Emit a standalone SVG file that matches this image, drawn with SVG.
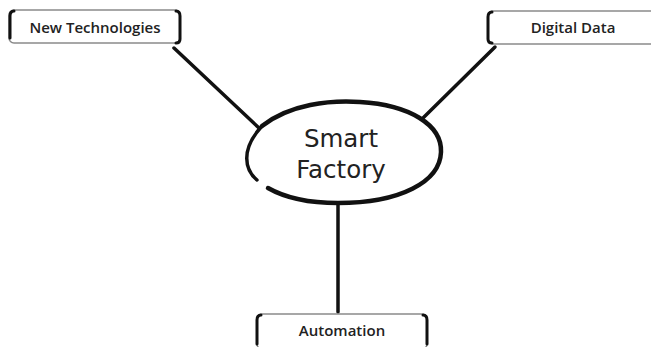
<svg xmlns="http://www.w3.org/2000/svg" width="651" height="347" viewBox="0 0 651 347">
<style>
.box{fill:#fff;stroke:#8a8a8a;stroke-width:1.5}
.br{fill:none;stroke:#111;stroke-width:3;stroke-linecap:round}
.lbl{font-family:"Open Sans","DejaVu Sans",sans-serif;font-size:15px;font-weight:600;fill:#222;text-anchor:middle}
.big{font-family:"DejaVu Sans","Open Sans",sans-serif;font-size:24.5px;fill:#222;text-anchor:middle}
.con{stroke:#111;stroke-width:3.5;stroke-linecap:round;fill:none}
</style>
<rect width="651" height="347" fill="#fff"/>
<g id="connectors">
<line class="con" x1="174" y1="48" x2="259" y2="128"/>
<line class="con" x1="495" y1="47" x2="422" y2="119"/>
<line class="con" x1="338" y1="203" x2="338" y2="312"/>
</g>
<g id="smart-factory">
<path d="M 262 126 C 290 104 330 100 360 102 C 410 105 442 125 441 152 C 440 182 400 203 338 203 C 305 203 282 196 268 188" fill="none" stroke="#111" stroke-width="4.5" stroke-linecap="round"/>
<path d="M 257 180 C 245 170 240 150 262 126" fill="none" stroke="#111" stroke-width="3.5" stroke-linecap="round"/>
<text class="big" x="341" y="147">Smart</text>
<text class="big" x="341" y="178">Factory</text>
</g>
<g id="new-technologies">
<rect class="box" x="9" y="10" width="171" height="33" rx="5"/>
<path class="br" d="M 14 11 Q 10 11 10 16 L 10 38"/>
<path class="br" d="M 176 11 Q 180 11 180 16 L 180 39 Q 180 43 176 43"/>
<text class="lbl" x="95" y="33">New Technologies</text>
</g>
<g id="digital-data">
<rect class="box" x="488" y="11" width="175" height="33" rx="5"/>
<path class="br" d="M 492 12 Q 488 12 488 17 L 488 39 Q 488 43 492 43"/>
<text class="lbl" x="573" y="33">Digital Data</text>
</g>
<g id="automation">
<rect class="box" x="257" y="314" width="170" height="35" rx="5"/>
<path class="br" d="M 261 315 Q 257 315 257 320 L 257 344"/>
<path class="br" d="M 423 315 Q 427 315 427 320 L 427 344"/>
<text class="lbl" x="342" y="336">Automation</text>
</g>
</svg>
